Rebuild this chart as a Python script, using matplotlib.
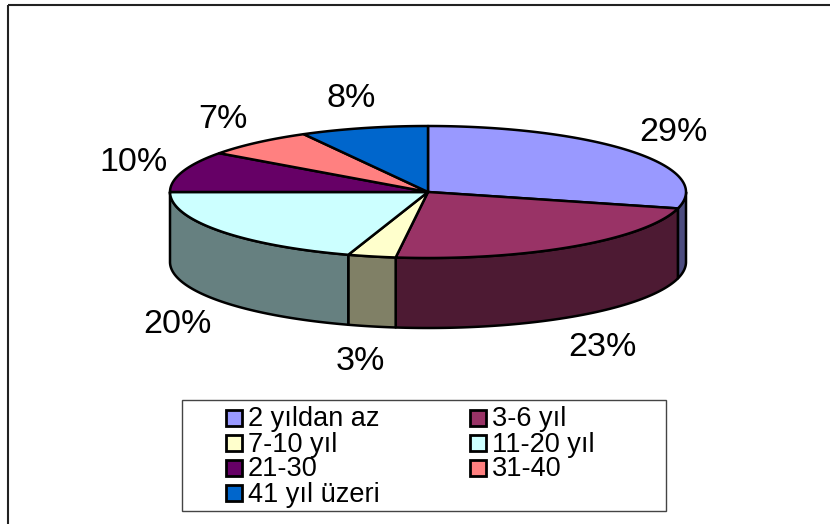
import numpy as np
import matplotlib.pyplot as plt
from matplotlib.patches import Polygon, Rectangle

plt.rcParams['font.family'] = ['Liberation Sans', 'DejaVu Sans']

labels = ['2 yıldan az', '3-6 yıl', '7-10 yıl', '11-20 yıl', '21-30', '31-40', '41 yıl üzeri']
values = [29, 23, 3, 20, 10, 7, 8]
colors = ['#9999FF', '#993366', '#FFFFCC', '#CCFFFF', '#660066', '#FF8080', '#0066CC']

# pie geometry in pixels (y down)
cx, cy = 428, 192
rx, ry = 258, 66
depth = 70


def darker(c):
    c = c.lstrip('#')
    rgb = [int(c[i:i + 2], 16) / 255 / 2 for i in (0, 2, 4)]
    return rgb


def arc(t1, t2, dy=0):
    t = np.radians(np.linspace(t1, t2, max(int(abs(t2 - t1) * 2), 2)))
    return np.column_stack([cx + rx * np.cos(t), cy + ry * np.sin(t) + dy])


fig = plt.figure(figsize=(8.3, 5.24), dpi=100)
ax = fig.add_axes([0, 0, 1, 1])
ax.set_xlim(0, 830)
ax.set_ylim(524, 0)
ax.axis('off')

# chart border
ax.add_patch(Rectangle((8, 5), 840, 540, fill=False, ec='#222222', lw=1.5))

total = sum(values)
cum = np.concatenate([[0], np.cumsum(values)]) / total
angles = -90 + 360 * cum

# side walls (front half only)
for i in range(len(values)):
    a, b = max(angles[i], 0), min(angles[i + 1], 180)
    if b <= a:
        continue
    top = arc(a, b)
    bot = arc(b, a, depth)
    ax.add_patch(Polygon(np.vstack([top, bot]), closed=True,
                         fc=darker(colors[i]), ec='black', lw=1.8, joinstyle='round'))

# top faces
for i in range(len(values)):
    pts = np.vstack([[cx, cy], arc(angles[i], angles[i + 1])])
    ax.add_patch(Polygon(pts, closed=True, fc=colors[i], ec='black', lw=1.8,
                         joinstyle='round'))

# percentage labels
for i, v in enumerate(values):
    tm = np.radians((angles[i] + angles[i + 1]) / 2)
    x = cx + 310 * np.cos(tm)
    y = cy + 97 * np.sin(tm)
    if np.sin(tm) > 0:
        y += depth + 5
    ax.text(x, y, f'{v}%', fontsize=24.5, ha='center', va='center')

# legend
ax.add_patch(Rectangle((182, 400), 484, 111, fill=False, ec='#444444', lw=1))
for i, (lab, col) in enumerate(zip(labels, colors)):
    r, c = divmod(i, 2)
    x0 = 226 + c * 244
    y0 = 410 + r * 25
    ax.add_patch(Rectangle((x0, y0), 16, 16, fc=col, ec='black', lw=2))
    ax.text(x0 + 22, y0 + 16.5, lab, fontsize=19.5, ha='left', va='baseline')

fig.savefig('out.png', dpi=100)
